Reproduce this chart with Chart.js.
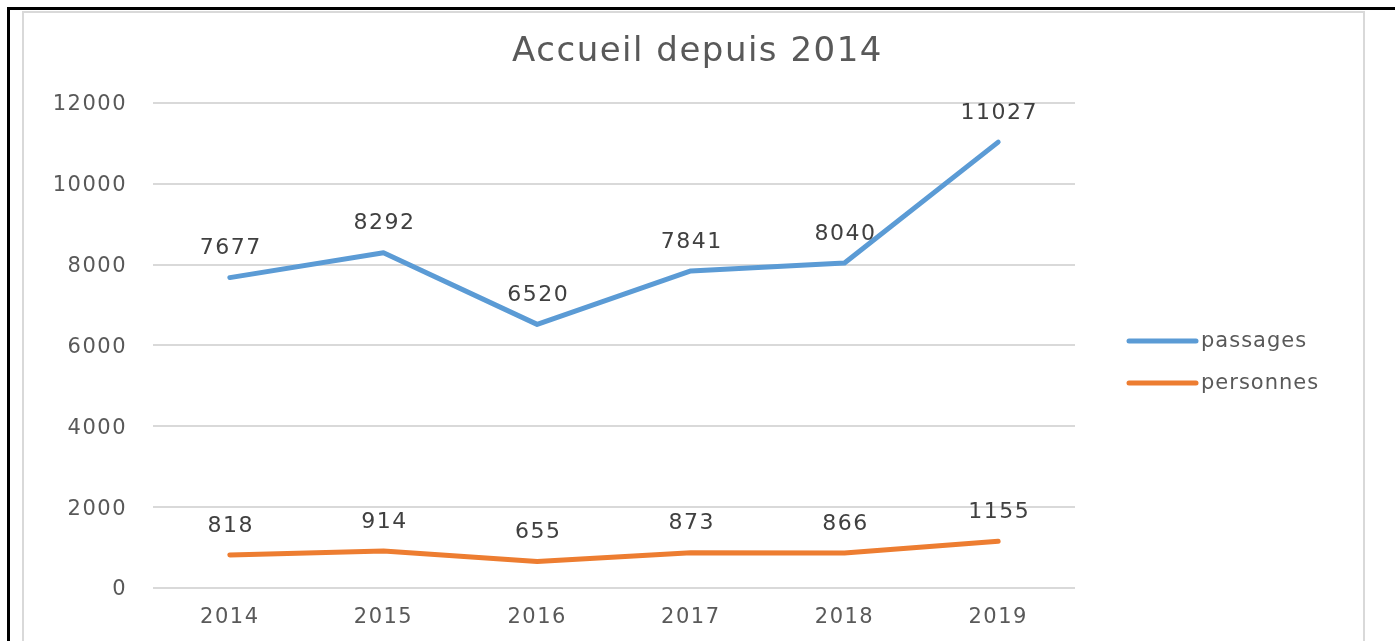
<!DOCTYPE html>
<html>
<head>
<meta charset="utf-8">
<script src="https://cdn.jsdelivr.net/npm/chart.js@4/dist/chart.umd.min.js"></script>
<style>
  body { margin: 0; background: #fff; }
  #wrap { position: relative; width: 1395px; height: 641px; overflow: hidden; }
  #blackTop { position: absolute; left: 7px; top: 7px; width: 1388px; height: 3px; background: #000; }
  #blackLeft { position: absolute; left: 7px; top: 7px; width: 3px; height: 640px; background: #000; }
  #frame { position: absolute; left: 22px; top: 11px; width: 1339px; height: 640px; border: 2px solid #d9d9d9; border-bottom: none; }
  canvas { position: absolute; left: 0; top: 0; }
</style>
</head>
<body>
<div id="wrap">
  <div id="blackTop"></div>
  <div id="blackLeft"></div>
  <div id="frame"></div>
  <canvas id="myChart" width="1395" height="641"></canvas>
</div>
<script>
let years = ['2014', '2015', '2016', '2017', '2018', '2019'];
let passages = [7677, 8292, 6520, 7841, 8040, 11027];
let personnes = [818, 914, 655, 873, 866, 1155];
let seriesNames = ['passages', 'personnes'];
let colors = ['#5B9BD5', '#ED7D31'];

let font = 'DejaVu Sans';

// the reference text is a bit wider than DejaVu, spread it a little
let spacing = {
    id: 'spacing',
    beforeDraw(chart) {
        chart.ctx.letterSpacing = '1.5px';
    }
};

// labels above points + legend on the right
let extras = {
    id: 'extras',
    afterDatasetsDraw(chart) {
        let ctx = chart.ctx;
        ctx.save();
        ctx.letterSpacing = '1.5px';
        ctx.font = '22px "' + font + '"';
        ctx.fillStyle = '#404040';
        ctx.textAlign = 'center';
        ctx.textBaseline = 'middle';
        chart.data.datasets.forEach((ds, i) => {
            chart.getDatasetMeta(i).data.forEach((pt, j) => {
                ctx.fillText(String(ds.data[j]), pt.x + 1, pt.y - 29);
            });
        });
        // legend
        let ys = [341, 383];
        ctx.lineCap = 'round';
        ctx.lineWidth = 5;
        ctx.font = '21px "' + font + '"';
        ctx.letterSpacing = '1px';
        ctx.textAlign = 'left';
        chart.data.datasets.forEach((ds, i) => {
            ctx.strokeStyle = ds.borderColor;
            ctx.beginPath();
            ctx.moveTo(1129, ys[i]);
            ctx.lineTo(1196, ys[i]);
            ctx.stroke();
            ctx.fillStyle = '#595959';
            ctx.fillText(ds.label, 1201, ys[i] + 1);
        });
        ctx.restore();
    }
};

let myChart = document.getElementById('myChart').getContext('2d');

let chart = new Chart(myChart, {
    type: 'line',
    data: {
        labels: years,
        datasets: [
            {
                label: seriesNames[0],
                data: passages,
                borderColor: colors[0],
                backgroundColor: colors[0],
                borderWidth: 5,
                pointRadius: 0,
                borderCapStyle: 'round',
                borderJoinStyle: 'round'
            },
            {
                label: seriesNames[1],
                data: personnes,
                borderColor: colors[1],
                backgroundColor: colors[1],
                borderWidth: 5,
                pointRadius: 0,
                borderCapStyle: 'round',
                borderJoinStyle: 'round'
            }
        ]
    },
    options: {
        responsive: false,
        animation: false,
        layout: {
            padding: { top: 32, right: 0, bottom: 0, left: 0 }
        },
        plugins: {
            legend: { display: false },
            tooltip: { enabled: false },
            title: {
                display: true,
                text: 'Accueil depuis 2014',
                color: '#595959',
                font: { family: font, size: 34, weight: 'normal' },
                padding: { top: 0, bottom: 30 }
            }
        },
        scales: {
            x: {
                offset: true,
                grid: { display: false, drawTicks: false },
                border: { display: false },
                ticks: {
                    color: '#595959',
                    font: { family: font, size: 21 },
                    padding: 17
                },
                afterFit: (s) => { s.height = 53; }
            },
            y: {
                min: 0,
                max: 12000,
                grid: { color: '#d9d9d9', lineWidth: 2, drawTicks: false },
                border: { display: false },
                ticks: {
                    stepSize: 2000,
                    color: '#595959',
                    font: { family: font, size: 21 },
                    padding: 26,
                    labelOffset: 2,
                    callback: (v) => String(v)
                },
                afterFit: (s) => { s.width = 153; }
            },
            // empty space on the right, where the legend sits
            side: {
                type: 'linear',
                position: 'right',
                grid: { display: false },
                border: { display: false },
                ticks: { display: false },
                afterFit: (s) => { s.width = 320; }
            }
        }
    },
    plugins: [spacing, extras]
});
</script>
</body>
</html>
